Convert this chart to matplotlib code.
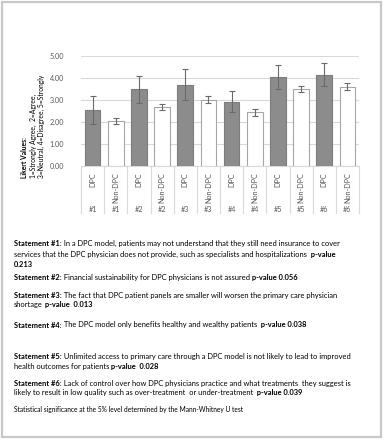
import matplotlib
matplotlib.use('Agg')
import matplotlib.pyplot as plt
import matplotlib.transforms as mtransforms
from matplotlib.patches import Rectangle
import numpy as np

# ---- data ----
statements = ['#1', '#1', '#2', '#2', '#3', '#3', '#4', '#4', '#5', '#5', '#6', '#6']
groups = ['DPC', 'Non-DPC'] * 6
means = [2.55, 2.05, 3.48, 2.67, 3.70, 3.01, 2.92, 2.44, 4.05, 3.50, 4.15, 3.60]
errors = [0.62, 0.12, 0.60, 0.14, 0.69, 0.15, 0.47, 0.15, 0.55, 0.14, 0.52, 0.16]
yticks = [0, 1, 2, 3, 4, 5]
ylabel_lines = ['Likert Values:', '1=Strongly Agree,  2=Agree,', '3=Neutral, 4=Disagree, 5=Strongly']

notes = [
    [("Statement #1:", True), (" In a DPC model, patients may not understand that they still need insurance to cover", False)],
    [("services that the DPC physician does not provide, such as specialists and hospitalizations", False), ("  p-value", True)],
    [("0.213", True)],
    [("Statement #2:", True), (" Financial sustainability for DPC physicians is not assured", False), (" p-value 0.056", True)],
    [("Statement #3:", True), (" The fact that DPC patient panels are smaller will worsen the primary care physician", False)],
    [("shortage", False), (" p-value  0.013", True)],
    [("Statement #4:", True), (" The DPC model only benefits healthy and wealthy patients", False), ("  p-value 0.038", True)],
    [("Statement #5:", True), (" Unlimited access to primary care through a DPC model is not likely to lead to improved", False)],
    [("health outcomes for patients", False), (" p-value  0.028", True)],
    [("Statement #6:", True), (" Lack of control over how DPC physicians practice and what treatments  they suggest is", False)],
    [("likely to result in low quality such as over-treatment  or under-treatment", False), ("  p-value 0.039", True)],
]
footnote = "Statistical significance at the 5% level determined by the Mann-Whitney U test"

# ---- layout ----
W, H = 384, 440
FONT = ['Lato', 'DejaVu Sans']
plt.rcParams['font.family'] = FONT
fig = plt.figure(figsize=(W / 100, H / 100), dpi=100)
fig.patch.set_facecolor('white')
fig.patches.append(Rectangle((1.5 / W, 3 / H), (381 - 1.5) / W, (437.5 - 3) / H,
                             transform=fig.transFigure, fill=False,
                             edgecolor='#c8c8c8', linewidth=1.6))

ax = fig.add_axes([81 / W, 1 - 166 / H, 278 / W, 110 / H])
x = np.arange(len(means))
fills = ['#8c8c8c' if g == 'DPC' else 'white' for g in groups]
edges = ['#7c7c7c' if g == 'DPC' else '#a6a6a6' for g in groups]
ax.bar(x, means, width=0.68, color=fills, edgecolor=edges, linewidth=0.8, zorder=3)
ax.errorbar(x, means, yerr=errors, fmt='none', ecolor='#6a6a6a', elinewidth=0.8,
            capsize=2, capthick=0.8, zorder=4)
ax.set_xlim(-0.5, len(means) - 0.5)
ax.set_ylim(0, 5)
ax.set_yticks(yticks)
ax.set_yticklabels([f'{v:.2f}' for v in yticks])
ax.tick_params(axis='y', length=0, pad=12, labelsize=5.2, labelcolor='#595959')
ax.set_xticks([])
ax.yaxis.grid(True, color='#d9d9d9', linewidth=0.8)
ax.set_axisbelow(True)
for s in ['top', 'right', 'left']:
    ax.spines[s].set_visible(False)
ax.spines['bottom'].set_color('#d9d9d9')
ax.spines['bottom'].set_linewidth(0.8)

trans = mtransforms.blended_transform_factory(ax.transData, ax.transAxes)
for b in np.arange(-0.5, len(means), 1.0):
    ax.plot([b, b], [0, -0.43], transform=trans, clip_on=False, color='#d9d9d9', linewidth=0.8)
for i in range(len(means)):
    ax.text(x[i], -6 / 110, groups[i], transform=trans, rotation=90, rotation_mode='anchor',
            ha='right', va='center', fontsize=5.2, color='#595959')
    ax.text(x[i], -44 / 110, statements[i], transform=trans, ha='center', va='center',
            fontsize=5.2, color='#595959')

# y label (three rotated lines)
for k, (xp, line) in enumerate(zip([24.5, 33, 41.5], ylabel_lines)):
    fig.text(xp / W, 1 - 178 / H, line, rotation=90,
             ha='center', va='bottom', fontsize=4.9, color='black',
             fontweight='bold' if k == 0 else 'normal')

# statements text
renderer = fig.canvas.get_renderer()
line_y = [243, 254, 264, 277, 295, 305, 325, 356, 367, 383, 393]
FS = 5.45
for segs, yc in zip(notes, line_y):
    xp = 14
    for s, bold in segs:
        t = fig.text(xp / W, 1 - (yc + 2.5) / H, s, fontsize=FS, color='black',
                     fontweight='bold' if bold else 'normal', va='baseline', ha='left')
        bb = t.get_window_extent(renderer)
        xp += bb.width
fig.text(14 / W, 1 - (410 + 2.2) / H, footnote, fontsize=4.8, color='black', va='baseline', ha='left')

fig.savefig('out.png', dpi=100, facecolor='white')
